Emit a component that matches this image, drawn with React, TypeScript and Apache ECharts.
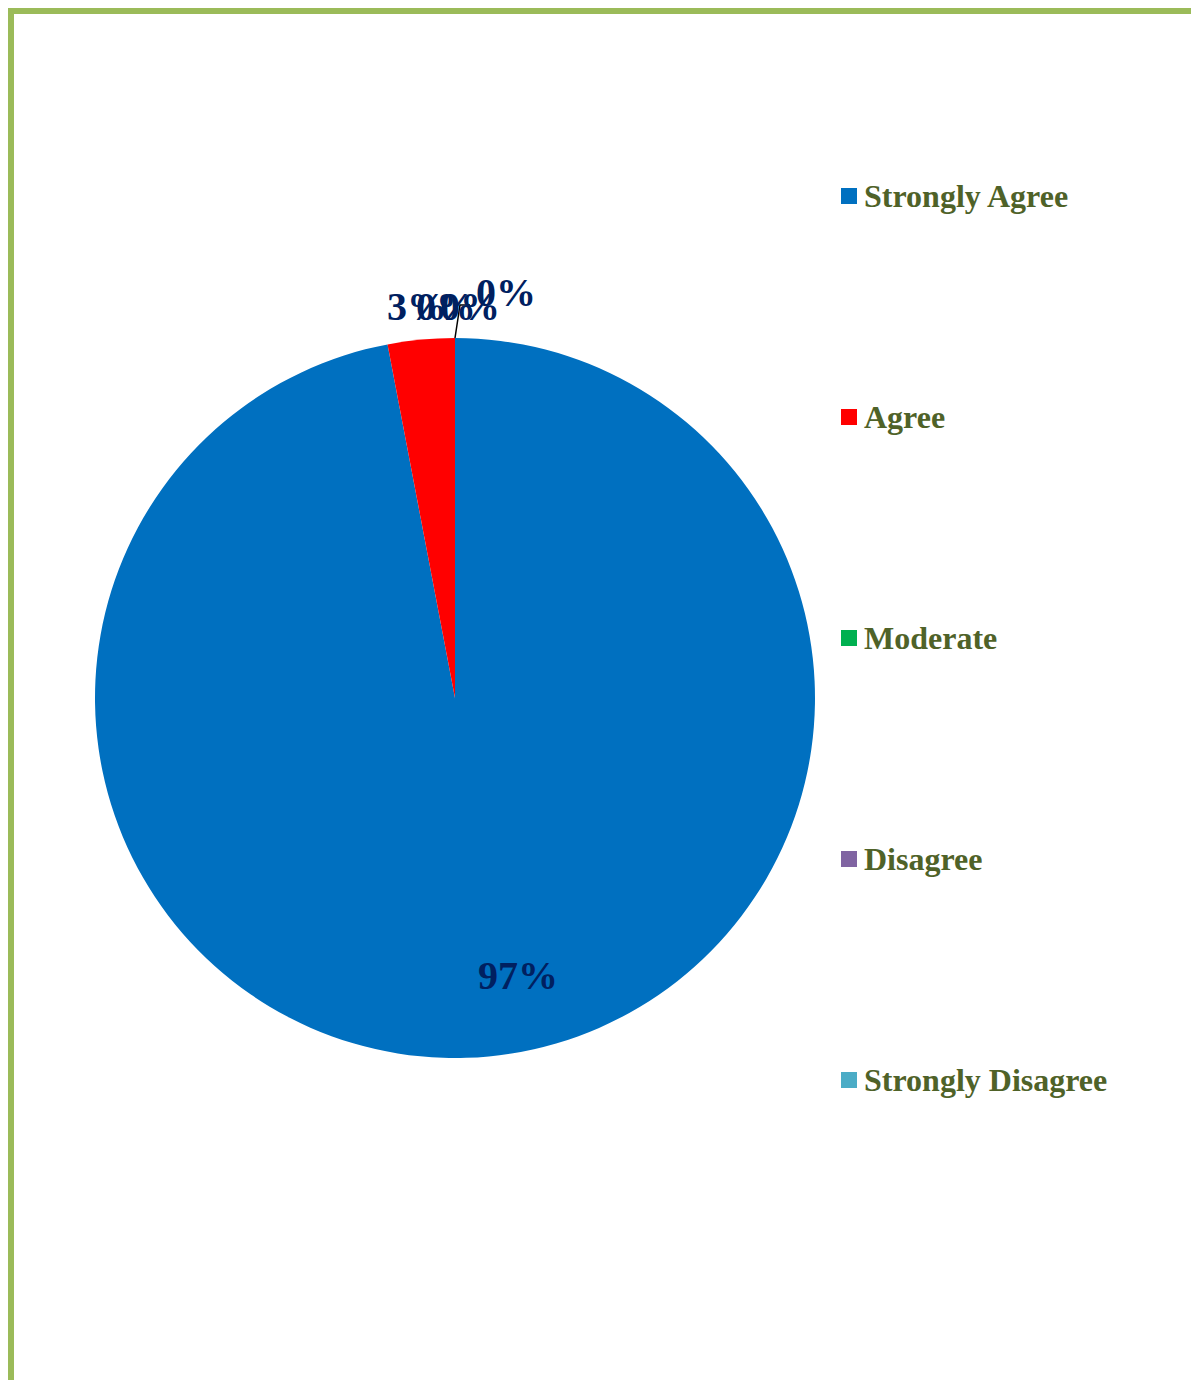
import React, { useEffect, useRef } from "react";
import * as echarts from "echarts";

const categories = ["Strongly Agree", "Agree", "Moderate", "Disagree", "Strongly Disagree"];
const values = [97, 3, 0, 0, 0];
const colors = ["#0070C0", "#FF0000", "#00B050", "#8064A2", "#4BACC6"];
// label anchor points (chart px) for each slice's data label
const labelPos: [number, number][] = [
  [504, 961],
  [403, 292],
  [432, 292],
  [456, 292],
  [492, 278],
];

export default function App() {
  const ref = useRef<HTMLDivElement>(null);
  useEffect(() => {
    if (!ref.current) return;
    const chart = echarts.init(ref.current, undefined, { renderer: "svg" });
    chart.setOption({
      animation: false,
      legend: {
        orient: "vertical",
        left: 822,
        top: 161,
        itemWidth: 16,
        itemHeight: 16,
        itemGap: 189,
        icon: "rect",
        data: categories,
        textStyle: {
          fontFamily: "'Liberation Serif', 'Times New Roman', serif",
          fontWeight: "bold",
          fontSize: 32,
          lineHeight: 32,
          color: "#4F6228",
          padding: [0, 0, 0, 2],
        },
      },
      series: [
        {
          type: "pie",
          center: [441, 684],
          radius: [0, 360],
          startAngle: 90,
          clockwise: true,
          avoidLabelOverlap: false,
          data: categories.map((c, i) => ({
            name: c,
            value: values[i],
            itemStyle: { color: colors[i] },
            labelLine: { show: i === 4 },
          })),
          label: {
            show: true,
            position: "outside",
            formatter: "{d}%",
            fontFamily: "'Liberation Serif', 'Times New Roman', serif",
            fontWeight: "bold",
            fontSize: 40,
            color: "#002060",
          },
          labelLine: {
            lineStyle: { color: "#000000", width: 1.5 },
          },
          labelLayout: (params: any) => {
            const p = labelPos[params.dataIndex];
            const res: any = { x: p[0], y: p[1], align: "center", verticalAlign: "middle" };
            if (params.dataIndex === 4) {
              res.labelLinePoints = [
                [441, 324],
                [446, 291],
                [456, 291],
              ];
            }
            return res;
          },
          emphasis: { disabled: true },
        },
      ],
    });
    return () => chart.dispose();
  }, []);
  return (
    <div
      style={{
        borderLeft: "6px solid #9BBB59",
        borderTop: "6px solid #9BBB59",
        width: 1185,
        height: 1366,
      }}
    >
      <div ref={ref} style={{ width: 1185, height: 1366 }} />
    </div>
  );
}
